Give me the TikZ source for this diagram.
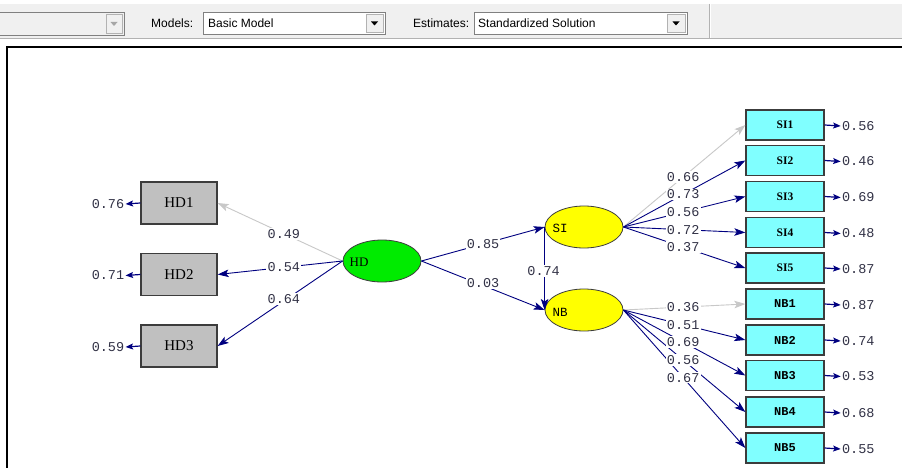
\documentclass[tikz,border=0pt]{standalone}
\usepackage{fontspec}
\setmainfont{Liberation Serif}
\newfontfamily\monof{Liberation Mono}
\newfontfamily\uif{Liberation Sans}
\usetikzlibrary{shapes.geometric,arrows.meta}
\definecolor{navy}{RGB}{0,0,128}
\definecolor{lgray}{RGB}{200,200,200}
\definecolor{boxgray}{RGB}{192,192,192}
\definecolor{cyanbox}{RGB}{128,255,255}
\definecolor{hdgreen}{RGB}{0,235,0}
\definecolor{siyellow}{RGB}{255,255,0}
\definecolor{tbgray}{RGB}{240,240,240}
\definecolor{numcol}{RGB}{50,50,70}
\definecolor{edgecol}{RGB}{60,60,60}
\begin{document}
\begin{tikzpicture}[x=1pt,y=-1pt,
  hdbox/.style={draw=edgecol, line width=1.3pt, fill=boxgray, minimum width=76pt, minimum height=42pt, inner sep=0, font=\fontsize{15}{15}\selectfont},
  sibox/.style={draw=edgecol, line width=1.3pt, fill=cyanbox, minimum width=78pt, minimum height=30pt, inner sep=0, font=\bfseries\fontsize{11.5}{11.5}\selectfont},
  nbbox/.style={sibox, font=\monof\bfseries\fontsize{12}{12}\selectfont},
  lat/.style={ellipse, draw=edgecol, line width=0.8pt, minimum width=78pt, minimum height=42pt, inner sep=0},
  lattext/.style={inner sep=0, font=\monof\fontsize{12.5}{12.5}\selectfont},
  num/.style={font=\monof\fontsize{13.5}{13.5}\selectfont, text=numcol, inner sep=1.2pt},
  lbl/.style={num, fill=white},
  ld/.style={draw=navy, line width=0.9pt, -{Stealth[length=11pt,width=7.5pt,inset=2.5pt]}},
  fixedld/.style={draw=lgray, line width=0.9pt, -{Stealth[length=11pt,width=7.5pt,inset=2.5pt]}},
  errld/.style={draw=navy, line width=1.2pt, -{Stealth[length=7.5pt,width=6pt,inset=1.5pt]}},
  uitext/.style={font=\uif\fontsize{12}{12}\selectfont, inner sep=0, anchor=west},
  combo/.style={draw=gray, fill=white, line width=0.8pt},
]
\useasboundingbox (0,0) rectangle (902,468);
\fill[white] (0,0) rectangle (902,468);
% toolbar
\fill[tbgray] (0,4) rectangle (902,38);
\draw[gray!60, line width=0.8pt] (0,38.5) -- (902,38.5);
\draw[gray!60, line width=0.8pt] (709,4) -- (709,38);
\draw[white, line width=0.8pt] (710.2,4) -- (710.2,38);
% combo 1 (disabled)
\draw[gray, fill=tbgray, line width=0.8pt] (-1,12) rectangle (124,35);
\draw[gray!60, fill=tbgray, line width=0.8pt] (106,14) rectangle (122,33);
\fill[gray!70] (110.5,22) -- (117.5,22) -- (114,26) -- cycle;
\node[uitext] (tbmodels) at (151,23) {Models:};
\draw[combo] (203,12) rectangle (385,34);
\draw[gray!60, fill=tbgray, line width=0.8pt] (366,14) rectangle (383,32);
\fill[black] (371,21.5) -- (378,21.5) -- (374.5,25.5) -- cycle;
\node[uitext] (tbbasic) at (208,23) {Basic Model};
\node[uitext] (tbest) at (413,23) {Estimates:};
\draw[combo] (474,12) rectangle (687,34);
\draw[gray!60, fill=tbgray, line width=0.8pt] (667,14) rectangle (685,32);
\fill[black] (672.5,21.5) -- (679.5,21.5) -- (676,25.5) -- cycle;
\node[uitext] (tbstd) at (478,23) {Standardized Solution};
% frame
\draw[black, line width=1.6pt] (902,47) -- (7,47) -- (7,468);
% nodes
\node[hdbox] (HD1) at (179,203) {HD1};
\node[hdbox] (HD2) at (179,274.5) {HD2};
\node[hdbox] (HD3) at (179,346) {HD3};
\node[lat, fill=hdgreen] (HD) at (382,261) {};
\node[lattext, font=\fontsize{13}{13}\selectfont] (HDt) at (359,262) {HD};
\node[lat, fill=siyellow] (SI) at (584,227) {};
\node[lattext] (SIt) at (560,228) {SI};
\node[lat, fill=siyellow] (NB) at (584,310) {};
\node[lattext] (NBt) at (560,312) {NB};
\node[sibox] (SI1) at (785,125) {SI1};
\node[sibox] (SI2) at (785,160.5) {SI2};
\node[sibox] (SI3) at (785,196.5) {SI3};
\node[sibox] (SI4) at (785,232.5) {SI4};
\node[sibox] (SI5) at (785,268) {SI5};
\node[nbbox] (NB1) at (785,304) {NB1};
\node[nbbox] (NB2) at (785,340) {NB2};
\node[nbbox] (NB3) at (785,375.5) {NB3};
\node[nbbox] (NB4) at (785,412) {NB4};
\node[nbbox] (NB5) at (785,448) {NB5};
% error labels
\node[num] (eHD1) at (108,204) {0.76};
\node[num] (eHD2) at (108,275.5) {0.71};
\node[num] (eHD3) at (108,347) {0.59};
\foreach \n/\v in {SI1/0.56,SI2/0.46,SI3/0.69,SI4/0.48,SI5/0.87,NB1/0.87,NB2/0.74,NB3/0.53,NB4/0.68,NB5/0.55}{
  \node[num, anchor=west] (e\n) at ([xshift=16pt,yshift=-1pt]\n.east) {\v};
  \draw[errld] (\n.east) -- (e\n.west);
}
\foreach \n in {HD1,HD2,HD3}{
  \draw[errld] (\n.west) -- (e\n.east);
}
% connectors
\draw[fixedld] (HD.west) -- (HD1.east);
\draw[ld] (HD.west) -- (HD2.east);
\draw[ld] (HD.west) -- (HD3.east);
\draw[ld] (HD.east) -- (SI.west);
\draw[ld] (HD.east) -- (NB.west);
\draw[ld] (SI.west) -- (NB.west);
\draw[fixedld] (SI.east) -- (SI1.west);
\foreach \n in {SI2,SI3,SI4,SI5}{ \draw[ld] (SI.east) -- (\n.west); }
\draw[fixedld] (NB.east) -- (NB1.west);
\foreach \n in {NB2,NB3,NB4,NB5}{ \draw[ld] (NB.east) -- (\n.west); }
% labels on connectors
\path (HD.west) -- (HD1.east) node[lbl, pos=0.47] (l1) {0.49};
\path (HD.west) -- (HD2.east) node[lbl, pos=0.47] (l2) {0.54};
\path (HD.west) -- (HD3.east) node[lbl, pos=0.47, yshift=2pt] (l3) {0.64};
\path (HD.east) -- (SI.west) node[lbl, pos=0.5] (l4) {0.85};
\path (HD.east) -- (NB.west) node[lbl, pos=0.5, yshift=2pt] (l5) {0.03};
\path (SI.west) -- (NB.west) node[lbl, pos=0.53, xshift=-1pt] (l6) {0.74};
\foreach \n/\v in {SI1/0.66,SI2/0.73,SI3/0.56,SI4/0.72,SI5/0.37}{
  \path (SI.east) -- (\n.west) node[lbl, pos=0.49] (l\n) {\v};
}
\foreach \n/\v in {NB1/0.36,NB2/0.51,NB3/0.69,NB4/0.56,NB5/0.67}{
  \path (NB.east) -- (\n.west) node[lbl, pos=0.49] (l\n) {\v};
}
\end{tikzpicture}
\end{document}
